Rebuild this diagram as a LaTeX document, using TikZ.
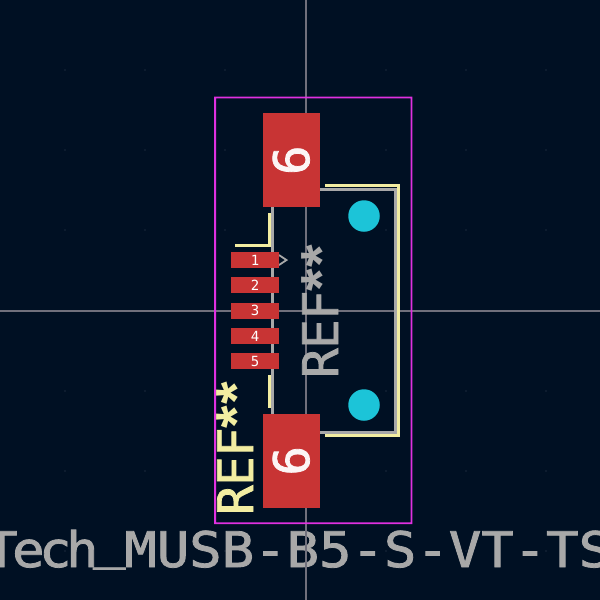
\documentclass[tikz,border=0pt]{standalone}
\usepackage{fontspec}
\newfontfamily\kifont{DejaVu Sans Mono}
\newfontfamily\kibig[FakeBold=1.6]{DejaVu Sans Mono}
\newfontfamily\kistar{Liberation Sans}
\definecolor{board}{HTML}{001023}
\definecolor{padred}{HTML}{C83434}
\definecolor{holecyan}{HTML}{1CC4D8}
\definecolor{silk}{HTML}{F2EDA1}
\definecolor{fab}{HTML}{A8A8A8}
\definecolor{court}{HTML}{E030E0}
\definecolor{cross}{HTML}{70707C}
\definecolor{griddot}{HTML}{3C4658}
\tikzset{
  smallpad/.style={rectangle, fill=padred, text=white, inner sep=0pt, minimum width=47.6pt, minimum height=16pt, font=\kifont\fontsize{14}{14}\selectfont},
  bigpad/.style={rectangle, fill=padred, text=white!95!padred, inner sep=0pt, rotate=90, minimum width=94.5pt, minimum height=57pt, font=\kibig\fontsize{49}{49}\selectfont},
  reftext/.style={rotate=90, anchor=base west, inner sep=0pt, font=\kibig\fontsize{49}{49}\selectfont},
  hole/.style={circle, fill=holecyan, inner sep=0pt, minimum size=31.5pt},
  silkline/.style={silk, line width=3pt, line join=miter},
  fabline/.style={fab, line width=3pt}
}
\newcommand{\reflabel}{R\kern-.5pt E\kern-.5pt F\kern-1pt\raisebox{-3pt}{\kistar\bfseries\fontsize{58}{58}\selectfont *\kern1pt *}}
\begin{document}
\begin{tikzpicture}[x=1pt, y=-1pt]
  \useasboundingbox (0, 0) rectangle (600, 600);
  \clip (0, 0) rectangle (600, 600);
  \fill[board] (0, 0) rectangle (600, 600);
  % grid
  \foreach \gx in {65, 145, 225, 386, 466, 546} {
    \foreach \gy in {70, 150, 230, 311, 391, 471, 551} {
      \fill[griddot] (\gx, \gy) circle (0.6pt);
    }
  }
  % value text
  \node[anchor=base west, inner sep=0pt, text=fab, xscale=1.1, font=\kibig\fontsize{49}{49}\selectfont] (valuetext) at (-15, 567) {T\kern-5pt e\kern-5pt c\kern-5pt h\kern-5pt \raisebox{9pt}{\_}\kern-1pt MUSB-B5-S-VT-TS};
  % crosshair
  \draw[cross, line width=1.2pt] (306, 0) -- (306, 600);
  \draw[cross, line width=1.2pt] (0, 311) -- (600, 311);
  % courtyard
  \fill[court, even odd rule] (214.2, 96.6) rectangle (412.4, 524.2) (216, 98.4) rectangle (410.6, 522.4);
  % fab outline
  \draw[fabline] (272.3, 207) -- (272.3, 414);
  \draw[fabline] (320, 189) -- (395.3, 189) -- (395.3, 432) -- (320, 432);
  \draw[fab, line width=1.8pt] (279, 255) -- (286.5, 260) -- (279, 265);
  % silkscreen
  \draw[silkline] (325, 185.7) -- (398.7, 185.7) -- (398.7, 435.3) -- (325, 435.3);
  \draw[silkline] (269.3, 213) -- (269.3, 245.3) -- (235, 245.3);
  \draw[silkline] (269.3, 375) -- (269.3, 407.7);
  % holes
  \node[hole] (holetop) at (364, 216) {};
  \node[hole] (holebot) at (364, 405) {};
  % pads
  \node[bigpad] (padtop) at (291.2, 160.2) {6};
  \node[bigpad] (padbot) at (291.2, 460.8) {6};
  \foreach \num/\ypos in {1/260, 2/285, 3/310.7, 4/336, 5/361} {
    \node[smallpad] (pad\num) at (255.2, \ypos) {\num};
  }
  % reference texts
  \node[reftext, text=fab] (reffab) at (338, 378) {\reflabel};
  \node[reftext, text=silk] (refsilk) at (253, 515) {\reflabel};
\end{tikzpicture}
\end{document}
